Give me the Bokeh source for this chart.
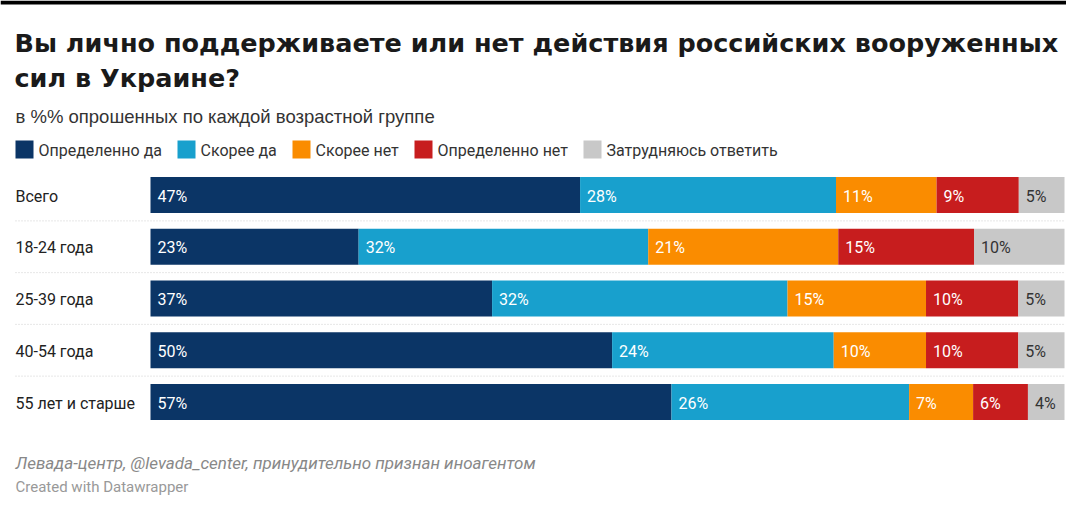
from bokeh.plotting import figure
from bokeh.models import Range1d, ColumnDataSource
from bokeh.core.properties import value
from bokeh.embed import file_html
from bokeh.resources import INLINE

# ---- data ----
groups = ["Всего", "18-24 года", "25-39 года", "40-54 года", "55 лет и старше"]
series = ["Определенно да", "Скорее да", "Скорее нет", "Определенно нет", "Затрудняюсь ответить"]
definitely_yes = [47, 23, 37, 50, 57]
rather_yes = [28, 32, 32, 24, 26]
rather_no = [11, 21, 15, 10, 7]
definitely_no = [9, 15, 10, 10, 6]
hard_to_say = [5, 10, 5, 5, 4]
values_by_series = [definitely_yes, rather_yes, rather_no, definitely_no, hard_to_say]

colors = ["#0b3566", "#18a0cd", "#fa8c00", "#c71d1e", "#c8c8c8"]
label_colors = ["#ffffff", "#ffffff", "#ffffff", "#ffffff", "#333333"]

title_lines = ["Вы лично поддерживаете или нет действия российских вооруженных",
               "сил в Украине?"]
subtitle = "в %% опрошенных по каждой возрастной группе"
source_note = "Левада-центр, @levada_center, принудительно признан иноагентом"
credit = "Created with Datawrapper"

# ---- layout (canvas pixels) ----
W, H = 1066, 504
BAR_X0 = 150          # canvas px where 0 % lies
PX_PER_UNIT = 9.14    # px per percent
ROW0 = 194.5          # canvas px of first row centre
ROW_PITCH = 51.75
BAR_H = 36

def px(xc):
    return (xc - BAR_X0) / PX_PER_UNIT

def py(yc):
    return (yc - ROW0) / ROW_PITCH

p = figure(width=W, height=H, output_backend="svg", toolbar_location=None,
           x_range=Range1d(px(0), px(W)), y_range=Range1d(py(H), py(0)),
           min_border=0, min_border_left=0, min_border_right=0,
           min_border_top=0, min_border_bottom=0)
p.axis.visible = False
p.grid.visible = False
p.outline_line_color = None
p.background_fill_color = "#ffffff"
p.border_fill_color = "#ffffff"

# screenshot frame band (top)
p.quad(left=[px(0)], right=[px(W)], top=[py(0)], bottom=[py(4)],
       fill_color="#000000", line_color=None)

n = len(groups)
rows = list(range(n))
totals = [sum(v[i] for v in values_by_series) for i in rows]

# stacked bars (normalised to 100 % per row)
left = [0.0] * n
for s, vals in enumerate(values_by_series):
    widths = [vals[i] * 100.0 / totals[i] for i in rows]
    right = [left[i] + widths[i] for i in rows]
    src = ColumnDataSource(dict(y=rows, left=left, right=right,
                                lab=[f"{v}%" for v in vals]))
    p.hbar(y="y", left="left", right="right", height=BAR_H / ROW_PITCH,
           source=src, fill_color=colors[s], line_color=None)
    p.text(x="left", y="y", text="lab", source=src, x_offset=7, y_offset=1,
           text_font=value("Roboto"), text_font_size="16px",
           text_color=label_colors[s], text_baseline="middle", text_align="left")
    left = right

# row separators (dotted)
sep_y = [i + 0.5 for i in rows[:-1]]
p.segment(x0=[px(15)] * len(sep_y), x1=[px(1065)] * len(sep_y), y0=sep_y, y1=sep_y,
          line_color="#cfcfcf", line_width=1, line_dash="1 2")

# row labels
p.text(x=[px(15)] * n, y=rows, text=groups, text_font=value("Roboto"),
       text_font_size="16px", text_color="#222222", text_baseline="middle", y_offset=1)

# title / subtitle
p.text(x=[px(14), px(14)], y=[py(42), py(77)], text=title_lines,
       text_font=value("DejaVu Sans"), text_font_style="bold",
       text_font_size="25.5px", text_color="#1a1a1a", text_baseline="alphabetic")
p.text(x=[px(15)], y=[py(116)], text=[subtitle], text_font=value("Liberation Sans"),
       text_font_size="18.5px", text_color="#333333", text_baseline="alphabetic")

# legend
leg_x = [15, 177, 292, 414, 583]
for s in range(len(series)):
    p.rect(x=[px(leg_x[s] + 9)], y=[py(149)], width=18, height=18,
           width_units="screen", height_units="screen",
           fill_color=colors[s], line_color=None)
    p.text(x=[px(leg_x[s] + 23)], y=[py(149)], text=[series[s]],
           text_font=value("Roboto"), text_font_size="16px",
           text_color="#333333", text_baseline="middle", y_offset=1)

# footer
p.text(x=[px(15)], y=[py(462)], text=[source_note], text_font=value("Roboto"),
       text_font_style="italic", text_font_size="17px", text_color="#888888",
       text_baseline="alphabetic")
p.text(x=[px(15)], y=[py(486)], text=[credit], text_font=value("Roboto"),
       text_font_size="15px", text_color="#999999", text_baseline="alphabetic")

open("out.html", "w").write(file_html(p, INLINE))
